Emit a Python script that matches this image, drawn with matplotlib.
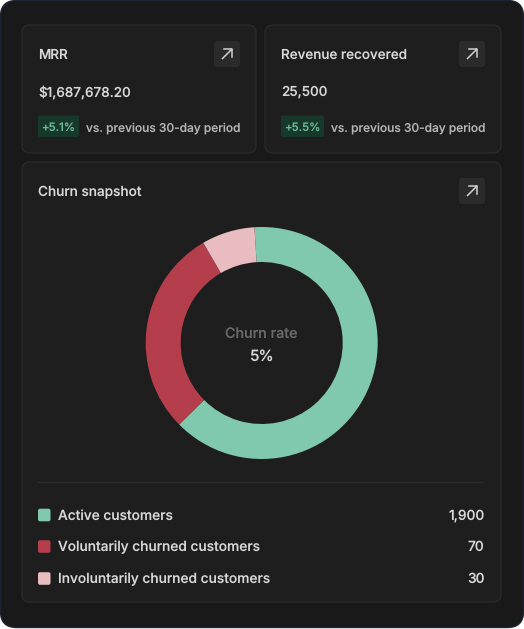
import matplotlib
matplotlib.use("Agg")
import matplotlib.pyplot as plt
from matplotlib.patches import FancyBboxPatch

plt.rcParams['font.family'] = ['Inter', 'DejaVu Sans']
plt.rcParams['font.weight'] = 500
plt.rcParams['text.hinting'] = 'no_hinting'
plt.rcParams['text.hinting_factor'] = 1

# Data
kpi_titles = ["MRR", "Revenue recovered"]
kpi_values = ["$1,687,678.20", "25,500"]
kpi_deltas = ["+5.1%", "+5.5%"]
kpi_note = "vs. previous 30-day period"
panel_title = "Churn snapshot"
center_label = "Churn rate"
center_value = "5%"
slice_shares = [63.6, 29.0, 7.4]
legend_labels = ["Active customers", "Voluntarily churned customers", "Involuntarily churned customers"]
legend_values = ["1,900", "70", "30"]
slice_colors = ["#80c9ae", "#b43e4c", "#e8bcc0"]

W, H = 524, 629
fig = plt.figure(figsize=(W / 100, H / 100), dpi=100, facecolor="white")
ax = fig.add_axes([0, 0, 1, 1])
ax.set_xlim(0, W)
ax.set_ylim(H, 0)
ax.axis("off")


def rbox(x0, y0, x1, y1, r, fc, ec="none", lw=0, z=1):
    p = FancyBboxPatch((x0 + r, y0 + r), x1 - x0 - 2 * r, y1 - y0 - 2 * r,
                       boxstyle=f"round,pad={r},rounding_size={r}",
                       fc=fc, ec=ec, lw=lw, zorder=z)
    ax.add_patch(p)


def icon(cx, cy):
    rbox(cx - 13, cy - 13, cx + 13, cy + 13, 3, "#2b2b2b", z=2)
    ax.plot([cx - 4.5, cx + 4.6], [cy + 4.5, cy - 4.6], color="#d2d2d2", lw=1.1, zorder=3)
    ax.plot([cx - 3.2, cx + 4.6, cx + 4.6], [cy - 4.6, cy - 4.6, cy + 3.2], color="#d2d2d2", lw=1.1, zorder=3)


# Shell and cards
rbox(0.5, 0.5, 523.5, 627.5, 16, "#191919", ec="#1e2433", lw=1.0, z=0)
card_fc, card_ec = "#1e1e1e", "#2a2a2a"
rbox(22, 25, 256, 153, 8, card_fc, card_ec, 1)
rbox(265, 25, 501, 153, 8, card_fc, card_ec, 1)
rbox(22, 162, 501, 602, 8, card_fc, card_ec, 1)

TXT = "#d8d8d8"
NOTE = "#b4b4b4"
lefts = [38, 281]
icons = [227, 472]
badge_w = [41, 43]
note_right = [240, 485]
for i in range(2):
    x = lefts[i]
    ax.text(x, 55, kpi_titles[i], color=TXT, fontsize=9.7, va="center", ha="left")
    ax.text(x, 92, kpi_values[i], color=TXT, fontsize=9.7, va="center", ha="left")
    rbox(x, 115.5, x + badge_w[i], 137, 2, "#17392c", z=2)
    ax.text(x + badge_w[i] / 2, 127.5, kpi_deltas[i], color="#6cba93", fontsize=8.2,
            va="center", ha="center", zorder=3)
    ax.text(note_right[i], 128, kpi_note, color=NOTE, fontsize=8.6, va="center", ha="right")
    icon(icons[i], 54)

ax.text(38, 192, panel_title, color=TXT, fontsize=9.8, va="center", ha="left")
icon(472, 191)

# Donut
cx, cy, R = 261.7, 343, 116
pie_ax = fig.add_axes([(cx - R) / W, 1 - (cy + R) / H, 2 * R / W, 2 * R / H])
pie_ax.pie(slice_shares, colors=slice_colors, startangle=93.6, counterclock=False,
           radius=1.0, wedgeprops=dict(width=35 / 116, linewidth=0))
pie_ax.set_xlim(-1, 1)
pie_ax.set_ylim(-1, 1)
pie_ax.patch.set_alpha(0)
ax.text(261.5, 335, center_label, color="#6a6a6a", fontsize=10.3, va="center", ha="center", zorder=5)
ax.text(261.5, 356.5, center_value, color=TXT, fontsize=11, va="center", ha="center", zorder=5)

# Divider and legend
ax.plot([38, 484], [482, 482], color="#2a2a2a", lw=1, zorder=2)
rows = [515, 546.5, 578.5]
for y, lab, val, col in zip(rows, legend_labels, legend_values, slice_colors):
    rbox(38, y - 6.3, 50.5, y + 6.3, 2, col, z=2)
    ax.text(58.5, y + 1, lab, color=TXT, fontsize=9.9, va="center", ha="left")
    ax.text(484.5, y + 1, val, color=TXT, fontsize=9.9, va="center", ha="right")

fig.savefig("out.png", dpi=100, facecolor="white")
